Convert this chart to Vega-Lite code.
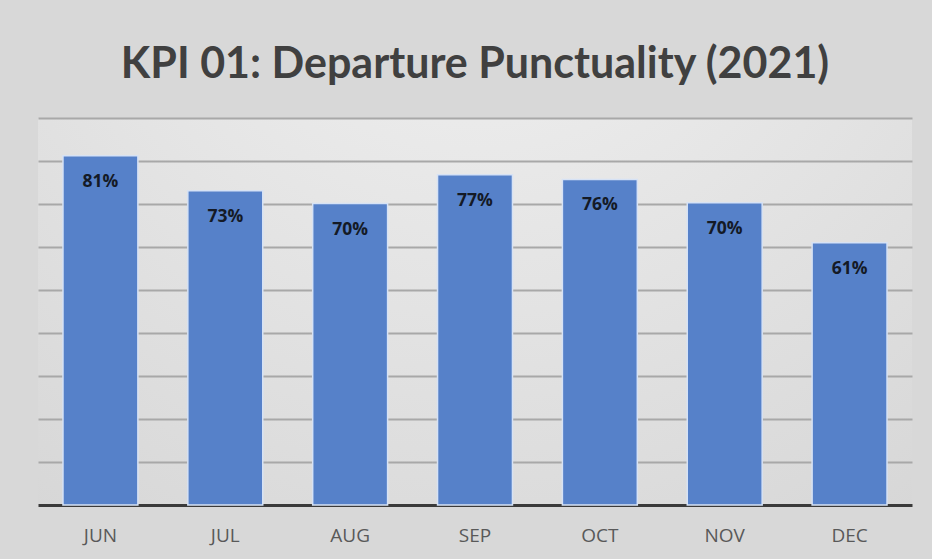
{
  "$schema": "https://vega.github.io/schema/vega-lite/v6.json",
  "width": 874,
  "height": 387,
  "autosize": {"type": "none"},
  "padding": {"left": 38, "top": 118, "right": 20, "bottom": 54},
  "background": "#d8d8d8",
  "title": {
    "text": "KPI 01: Departure Punctuality (2021)",
    "font": "Lato",
    "fontSize": 43,
    "fontWeight": "bold",
    "color": "#404040",
    "anchor": "middle",
    "offset": 31
  },
  "config": {
    "view": {
      "stroke": null,
      "fill": {
        "gradient": "radial",
        "x1": 0.5, "y1": 0, "r1": 0,
        "x2": 0.5, "y2": 0, "r2": 1.1,
        "stops": [
          {"offset": 0, "color": "#f3f3f3"},
          {"offset": 1, "color": "#d0d0d0"}
        ]
      }
    }
  },
  "data": {
    "values": [
      {"month": "JUN", "value": 0.812},
      {"month": "JUL", "value": 0.731},
      {"month": "AUG", "value": 0.701},
      {"month": "SEP", "value": 0.768},
      {"month": "OCT", "value": 0.757},
      {"month": "NOV", "value": 0.703},
      {"month": "DEC", "value": 0.61}
    ]
  },
  "encoding": {
    "x": {
      "field": "month",
      "type": "nominal",
      "sort": null,
      "scale": {"paddingInner": 0.4, "paddingOuter": 0.2},
      "axis": {
        "title": null,
        "labelAngle": 0,
        "ticks": false,
        "labelPadding": 21,
        "labelFont": "Open Sans",
        "labelFontSize": 19,
        "labelColor": "#595959",
        "domainColor": "#3a3a3a",
        "domainWidth": 3,
        "grid": false
      }
    },
    "y": {
      "field": "value",
      "type": "quantitative",
      "scale": {"domain": [0, 0.9]},
      "axis": {
        "title": null,
        "labels": false,
        "ticks": false,
        "domain": false,
        "values": [0.1, 0.2, 0.3, 0.4, 0.5, 0.6, 0.7, 0.8, 0.9],
        "gridColor": "#a8a8a8",
        "gridWidth": 2,
        "gridOpacity": 1
      }
    }
  },
  "layer": [
    {
      "mark": {"type": "bar", "color": "#5681c9", "stroke": "#d6e2f5", "strokeWidth": 1.5}
    },
    {
      "mark": {
        "type": "text",
        "baseline": "middle",
        "dy": 26,
        "font": "Open Sans",
        "fontSize": 17.5,
        "fontWeight": "bold",
        "color": "#141a26"
      },
      "encoding": {
        "text": {"field": "value", "type": "quantitative", "format": ".0%"}
      }
    }
  ]
}
